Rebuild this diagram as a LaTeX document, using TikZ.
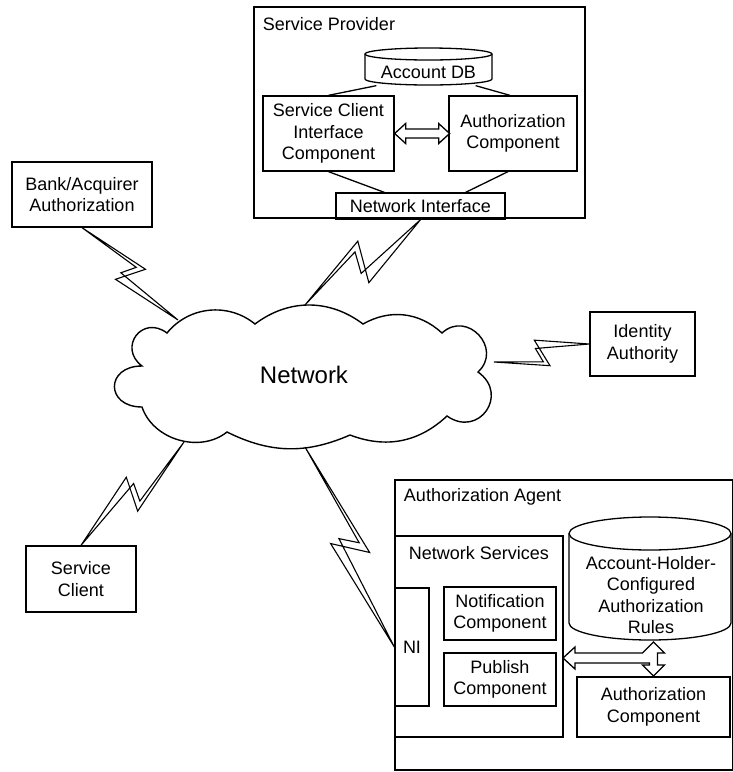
\documentclass[tikz,border=0pt]{standalone}
\usepackage{fontspec}
\setmainfont{Liberation Sans}
\usetikzlibrary{calc}
\newcommand\zbolt[7]{% #1 from, #2 to, #3 angle A, #4 angle B, #5 outer offset, #6 inner offset A, #7 inner offset B
  \draw[boltline] (#1) -- ($(#1)!0.56!(#2)!#5!#3:(#2)$) -- ($(#1)!0.45!(#2)!#5!#4:(#2)$) -- (#2)
    -- ($(#1)!0.445!(#2)!#7!#4:(#2)$) -- ($(#1)!0.50!(#2)!#6!#3:(#2)$) -- cycle;}
\begin{document}
\begin{tikzpicture}[x=1pt,y=-1pt,line width=1.3pt,line join=miter,
  font=\fontsize{18}{21.5}\selectfont,
  box/.style={draw,rectangle,inner sep=0pt,align=center},
  frame/.style={rectangle,inner sep=0pt},
  boltline/.style={line width=1.1pt,line join=miter},
  hollow/.style={line width=1.3pt,fill=white,line join=miter}]
\useasboundingbox (0,0) rectangle (732,772);

% ---------- Service Provider ----------
\node[box,minimum width=331pt,minimum height=211pt] (sp) at (419.5,112.5) {};
\node[anchor=west] (splabel) at (259,24) {Service Provider};
\node[box,minimum width=131pt,minimum height=75pt] (scic) at (328.5,133.5) {Service Client\\Interface\\Component};
\node[box,minimum width=128pt,minimum height=75pt] (spauth) at (513,133.5) {Authorization\\Component};
\node[box,minimum width=169pt,minimum height=26pt] (spni) at (420.5,206) {Network Interface};
% Account DB cylinder
\node[frame,minimum width=127pt,minimum height=37pt] (db) at (428.5,66.5) {};
\draw (365,54) -- (365,79) arc[start angle=180,end angle=360,x radius=63.5pt,y radius=6pt] -- (492,54);
\draw (428.5,54) ellipse [x radius=63.5pt,y radius=6pt];
\node (dblabel) at (428.5,72) {Account DB};
\draw ($(db.south west)+(12,0)$) -- (scic.north);
\draw ($(db.south east)+(-17,0)$) -- ($(spauth.north)+(-3,0)$);
\draw (scic.south) -- ($(spni.north west)+(49,0)$);
\draw ($(spauth.south)+(-5,0)$) -- ($(spni.north east)+(-40,0)$);
\draw[hollow] (scic.east) -- ++(11,-10) -- ++(0,5.5) -- ++(33,0) -- ++(0,-5.5) -- ++(11,10)
  -- ++(-11,10) -- ++(0,-5.5) -- ++(-33,0) -- ++(0,5.5) -- cycle;

% ---------- outer boxes ----------
\node[box,minimum width=140pt,minimum height=65pt] (bank) at (82,194.5) {Bank/Acquirer\\Authorization};
\node[box,minimum width=110pt,minimum height=66pt] (client) at (81,579) {Service\\Client};
\node[box,minimum width=105pt,minimum height=64pt] (ida) at (642.5,344) {Identity\\Authority};

% ---------- Cloud ----------
\draw[line width=1.4pt] (167,333)
  to[bend left=45] (255,324)
  to[bend left=37] (363,324)
  to[bend left=36] (442,333)
  to[bend left=90,looseness=1.65] (478,372)
  to[bend left=90,looseness=1.85] (447,416)
  to[bend left=32] (350,435)
  to[bend left=25] (227,432)
  to[bend left=55] (142,407)
  to[bend left=90,looseness=2.3] (142,366)
  to[bend left=90,looseness=1.9] (167,333) -- cycle;
\node[font=\fontsize{24}{28}\selectfont] (net) at (304,375) {Network};
\coordinate (cb) at (178,320);
\coordinate (csp) at (305,305);
\coordinate (cid) at (494,362);
\coordinate (ccl) at (184,442);
\coordinate (cag) at (305,447);

% ---------- Authorization Agent ----------
\node[box,minimum width=338pt,minimum height=290pt] (agent) at (564,625) {};
\node[anchor=west] (aglabel) at (400,497) {Authorization Agent};
\node[box,minimum width=168pt,minimum height=201pt] (ns) at (479,636.5) {};
\node (nslabel) at (479,553) {Network Services};
\node[box,minimum width=34pt,minimum height=118pt] (aani) at (412,647) {NI};
\node[box,minimum width=112pt,minimum height=53pt] (notif) at (500,613.5) {Notification\\Component};
\node[box,minimum width=112pt,minimum height=53pt] (pub) at (500,679.5) {Publish\\Component};
\node[box,minimum width=153pt,minimum height=60pt] (aaauth) at (653.5,707) {Authorization\\Component};
% rules cylinder
\node[frame,minimum width=162pt,minimum height=123pt] (rules) at (650,578.5) {};
\draw[fill=white] (569,533.5) -- (569,623) arc[start angle=180,end angle=360,x radius=81pt,y radius=17pt] -- (731,533.5);
\draw (650,533.5) ellipse [x radius=81pt,y radius=16.5pt];
\node[align=center] (ruleslabel) at (651,595) {Account-Holder-\\Configured\\Authorization\\Rules};
% T-shaped hollow arrow
\draw[hollow] (563,658) -- (575,647) -- (575,653) -- (642.5,653) -- (653.5,642) -- (664.5,653)
  -- (657.5,653) -- (657.5,665) -- (664.5,665) -- (653.5,676) -- (642.5,665) -- (649.5,665)
  -- (649.5,663) -- (575,663) -- (575,669) -- cycle;

% ---------- lightning links ----------
\zbolt{bank.south}{cb}{90}{-90}{14pt}{9pt}{5.6pt}
\zbolt{csp}{spni.south}{90}{-90}{20pt}{13pt}{8pt}
\zbolt{cid}{ida.west}{-90}{90}{14pt}{9pt}{5.6pt}
\zbolt{ccl}{client.north}{90}{-90}{16pt}{10.4pt}{6.4pt}
\zbolt{cag}{aani.west}{90}{-90}{16pt}{10.4pt}{6.4pt}
\end{tikzpicture}
\end{document}
